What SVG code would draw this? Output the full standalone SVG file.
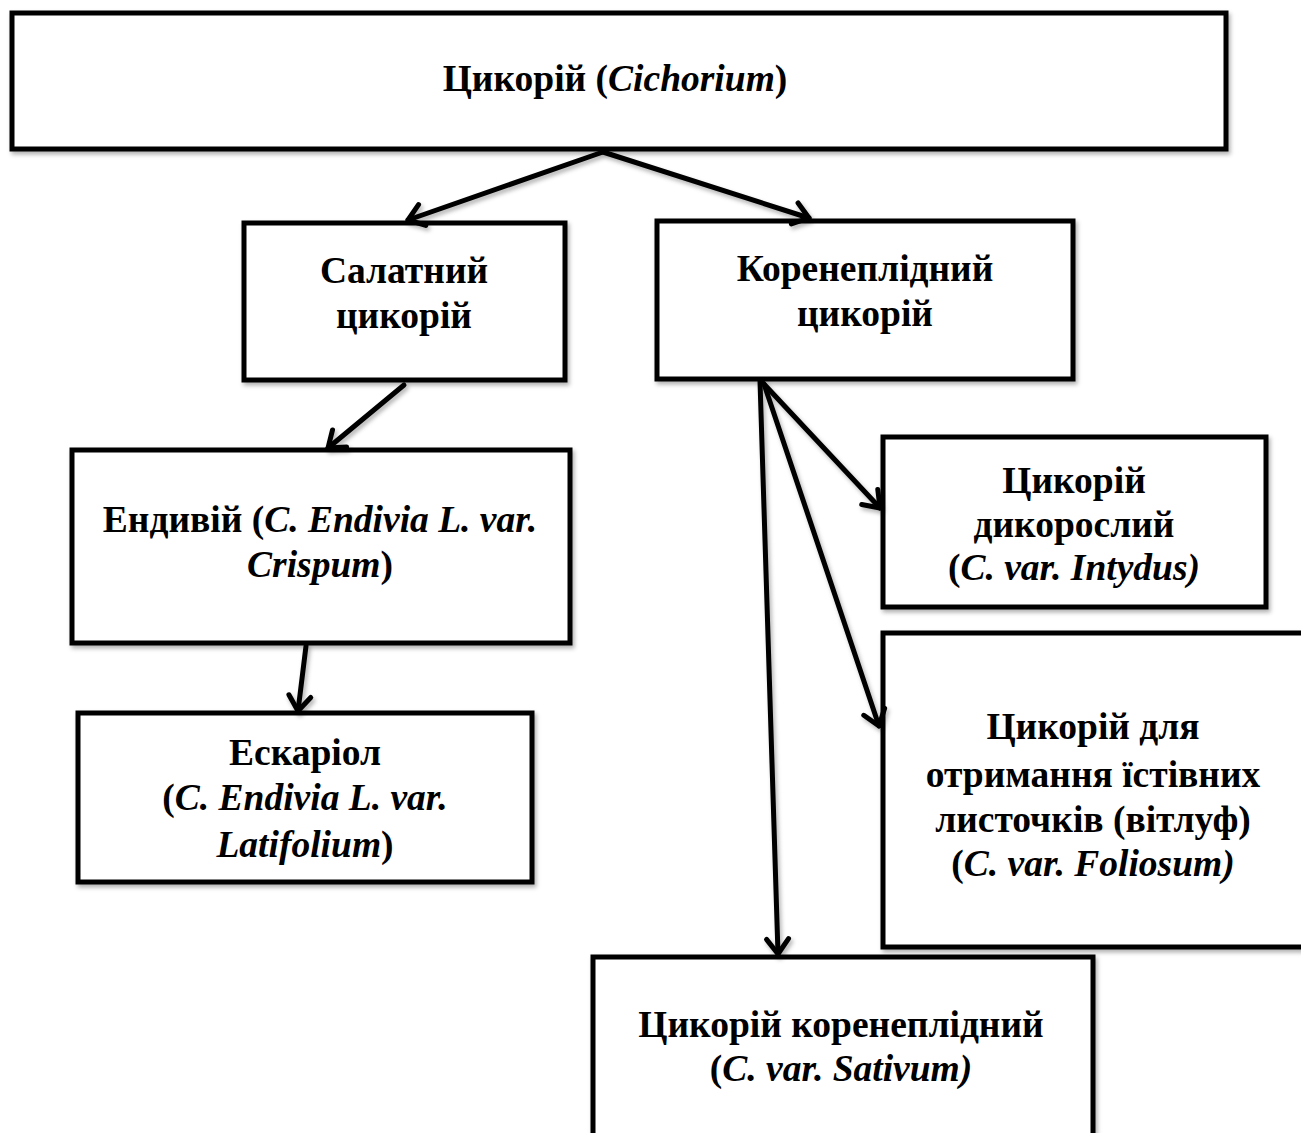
<svg xmlns="http://www.w3.org/2000/svg" width="1301" height="1133" viewBox="0 0 1301 1133">
<style>
.box{fill:#fff;stroke:#000;stroke-width:5}
.t{font-family:"Liberation Serif","Times New Roman",serif;font-weight:bold;font-size:37.5px;text-anchor:middle;fill:#000}
.i{font-style:italic}
.c{fill:none;stroke:#000;stroke-width:5;stroke-linecap:round}
</style>
<defs>
<filter id="sh" x="-5%" y="-5%" width="110%" height="115%">
<feDropShadow dx="2" dy="3" stdDeviation="2" flood-color="#000" flood-opacity="0.3"/>
</filter>
<marker id="arr" markerUnits="userSpaceOnUse" markerWidth="34" markerHeight="34" viewBox="-22 -17 34 34" refX="0" refY="0" orient="auto">
<path d="M-15,-11 L0,0 L-15,11" fill="none" stroke="#000" stroke-width="5" stroke-linecap="round" stroke-linejoin="round"/>
</marker>
</defs>
<rect width="1301" height="1133" fill="#fff"/>
<g id="n-root">
<rect class="box" x="12" y="13" width="1214" height="136" filter="url(#sh)"/>
<text class="t" x="615" y="91">Цикорій (<tspan class="i">Cichorium</tspan>)</text>
</g>
<g id="n-salat">
<rect class="box" x="244" y="223" width="321" height="157" filter="url(#sh)"/>
<text class="t" x="404" y="283">Салатний</text>
<text class="t" x="404" y="328">цикорій</text>
</g>
<g id="n-koren">
<rect class="box" x="657" y="221" width="416" height="158" filter="url(#sh)"/>
<text class="t" x="865" y="281">Коренеплідний</text>
<text class="t" x="865" y="326">цикорій</text>
</g>
<g id="n-endiv">
<rect class="box" x="72" y="450" width="498" height="193" filter="url(#sh)"/>
<text class="t" x="320" y="532">Ендивій (<tspan class="i">C. Endivia L. var.</tspan></text>
<text class="t" x="320" y="577"><tspan class="i">Crispum</tspan>)</text>
</g>
<g id="n-eskar">
<rect class="box" x="78" y="713" width="454" height="169" filter="url(#sh)"/>
<text class="t" x="305" y="765">Ескаріол</text>
<text class="t" x="305" y="810">(<tspan class="i">C. Endivia L. var.</tspan></text>
<text class="t" x="305" y="857"><tspan class="i">Latifolium</tspan>)</text>
</g>
<g id="n-dykor">
<rect class="box" x="883" y="437" width="383" height="170" filter="url(#sh)"/>
<text class="t" x="1074" y="493">Цикорій</text>
<text class="t" x="1074" y="537">дикорослий</text>
<text class="t" x="1074" y="580">(<tspan class="i">C. var. Intydus)</tspan></text>
</g>
<g id="n-vitluf">
<rect class="box" x="883" y="633" width="430" height="314" filter="url(#sh)"/>
<text class="t" x="1093" y="739">Цикорій для</text>
<text class="t" x="1093" y="787">отримання їстівних</text>
<text class="t" x="1093" y="832">листочків (вітлуф)</text>
<text class="t" x="1093" y="876">(<tspan class="i">C. var. Foliosum)</tspan></text>
</g>
<g id="n-sativ">
<rect class="box" x="593" y="957" width="500" height="200" filter="url(#sh)"/>
<text class="t" x="841" y="1037">Цикорій коренеплідний</text>
<text class="t" x="841" y="1081">(<tspan class="i">C. var. Sativum)</tspan></text>
</g>
<g id="connectors" filter="url(#sh)">
<line class="c" x1="603" y1="152" x2="408" y2="220" marker-end="url(#arr)"/>
<line class="c" x1="603" y1="152" x2="809" y2="218" marker-end="url(#arr)"/>
<line class="c" x1="404" y1="385" x2="328" y2="448" marker-end="url(#arr)"/>
<line class="c" x1="306" y1="646" x2="298" y2="711" marker-end="url(#arr)"/>
<line class="c" x1="763" y1="383" x2="880" y2="508" marker-end="url(#arr)"/>
<line class="c" x1="764" y1="384" x2="879" y2="726" marker-end="url(#arr)"/>
<line class="c" x1="760" y1="381" x2="778" y2="954" marker-end="url(#arr)"/>
</g>
</svg>
